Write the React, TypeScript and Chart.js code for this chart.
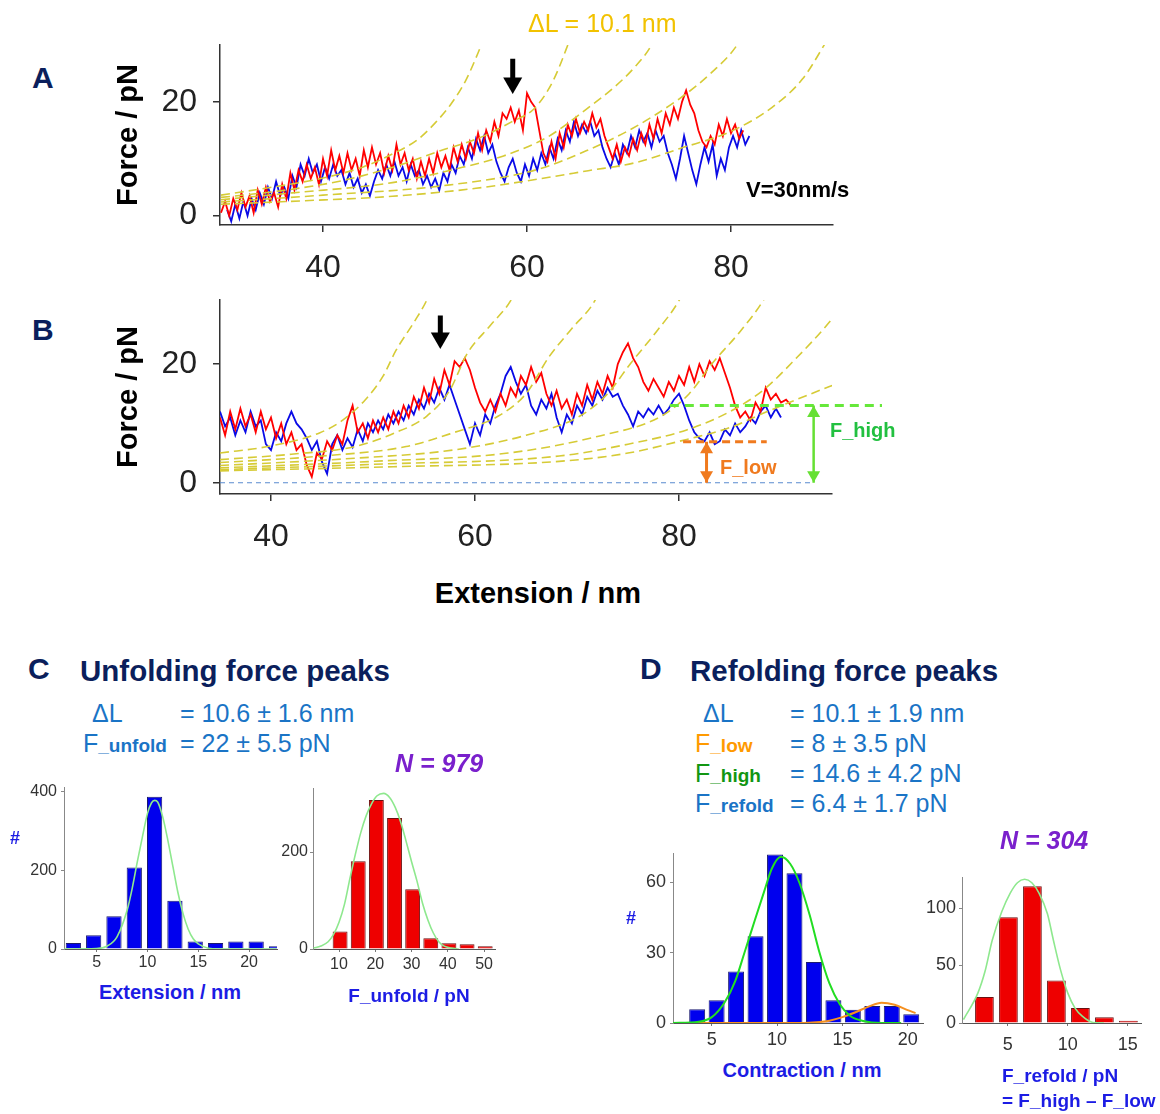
import React, { useEffect, useRef } from "react";
import { Chart, registerables } from "chart.js";
Chart.register(...registerables);

const FONT = '"Liberation Sans", Arial, Helvetica, sans-serif';
const NAVY = "#0b1f5c";
const STAT = "#1a74c6";
const AXT = "#1c1ce4";
const PURPLE = "#7a20cc";
const YELLOW = "#d6cb36";
const RED = "#ff0000";
const BLUE = "#0a0ae6";

// ---------------- Panel A ----------------
const A_X_RANGE = [29.9, 90];
const A_Y_RANGE = [-1.65, 30];
const A_X_TICKS = [40, 60, 80];
const A_Y_TICKS = [0, 20];
const A_RED_X = [30.0, 81.2];
const A_RED_Y = [
  0.5, 2.5, 0, 3, 1, 4, 1.5, 3.5, 0.5, 4.5,
  2, 5, 2.5, 4, 1.5, 5.5, 3, 7.5, 4.5, 8,
  6, 9, 6.5, 8.5, 5.5, 10, 7, 11.5, 8, 10.5,
  7.5, 11, 8, 10, 7, 11.5, 8.5, 12, 9, 11,
  7.5, 10.5, 8, 12.5, 9, 11, 8, 10, 6.5, 9.5,
  7, 10, 7.5, 11, 8.5, 10.5, 8, 12, 9.5, 12.5,
  10, 13, 11, 14.5, 11.5, 15, 13, 16.5, 14, 18,
  17, 19, 16.5, 18.5, 15, 21.5, 20, 19, 15, 11,
  9.5, 13, 10, 14.5, 12, 16, 14, 17, 14.5, 16.5,
  15, 18, 15.5, 17, 14, 12, 10, 12.5, 9.5, 12,
  10.5, 13.5, 11.5, 14.5, 12.5, 16, 13.5, 17, 14.5, 18,
  16, 19, 17, 20, 22, 19.5, 18, 15, 13, 12,
  14, 12.5, 16, 14, 17, 14.5, 16, 13.5, 15,
];
const A_BLUE_X = [30.6, 81.8];
const A_BLUE_Y = [
  1, -1, 2, -0.5, 2.5, 0, 3, 1, 4, 2,
  5, 3, 6, 3.5, 5, 3, 7, 5, 9, 7,
  10, 7.5, 9, 6, 8.5, 6.5, 9, 7, 8, 5.5,
  7.5, 5, 6.5, 4, 5.5, 3.5, 6, 8, 6.5, 9,
  7, 9.5, 7, 8.5, 6, 9, 7, 8, 5.5, 7,
  5, 6.5, 4.5, 7.5, 6, 9, 7.5, 10.5, 9, 12,
  10, 13.5, 11.5, 14, 11, 12.5, 9.5, 7.5, 6, 8.5,
  10, 7.5, 6, 9, 7, 10, 8, 11, 9, 12,
  10, 13.5, 11.5, 15, 13, 16.5, 14, 16, 14.5, 16.5,
  14, 15, 12, 10, 8.5, 11, 9, 12.5, 11, 14,
  12, 15, 13, 14.5, 12, 15, 13, 14, 11, 9,
  6.5, 10, 14, 11, 8, 5.5, 9, 12, 9.5, 12.5,
  7, 10, 8, 12, 14, 12, 15, 12.5, 14,
];
const A_WLC_1 = [[30, 3.6], [35, 5.0], [40, 6.6], [44, 8.6], [46.3, 10.4], [49.3, 13.4], [51, 16.3], [52.5, 19.5], [54, 23.8], [55.5, 29.9], [56.2, 33]];
const A_WLC_2 = [[30, 3.2], [36, 4.4], [42, 6.2], [47, 8.6], [51.5, 11.4], [55.5, 13.8], [58.5, 16.5], [60.7, 18.8], [62.5, 23.5], [64, 30], [64.6, 33]];
const A_WLC_3 = [[30, 2.8], [37, 4.0], [46.8, 5.8], [53, 8.2], [57.7, 10.5], [62, 13.8], [65.8, 18.7], [68.5, 22.5], [70.5, 26], [72.2, 30], [72.8, 32.5]];
const A_WLC_4 = [[30, 2.4], [40, 3.6], [51.5, 5.2], [61, 8.1], [65.8, 11.4], [70, 15], [74.9, 20.5], [78, 25], [80.6, 30], [81.2, 32]];
const A_WLC_5 = [[30, 2.0], [38, 2.6], [46.8, 3.4], [55, 4.8], [61, 6.4], [66, 7.9], [70.6, 9.3], [75, 11.8], [80.1, 14.9], [84, 19], [87, 24], [89.1, 29.9], [89.6, 31.5]];
const A_ARROW = [[58.6, 27.6], [58.6, 23.3]];

// ---------------- Panel B ----------------
const B_X_RANGE = [35, 95];
const B_Y_RANGE = [-1.9, 30.8];
const B_X_TICKS = [40, 60, 80];
const B_Y_TICKS = [0, 20];
const B_RED_X = [35, 91];
const B_RED_Y = [
  11, 8, 12, 9, 12.5, 9.5, 11.5, 8.5, 12, 9,
  11, 7.5, 10, 6.5, 8.5, 5.5, 6.5, 3, 1, 5,
  4, 7, 5.5, 8, 6.5, 10.5, 13, 8.5, 10, 7.5,
  10.5, 8.5, 11, 9, 12, 10, 13, 11, 14.5, 12.5,
  16, 13.5, 17.5, 15, 19, 16.5, 20.5, 19.5, 21, 19,
  16, 13.5, 12, 14, 12, 15, 13, 16, 14.5, 18,
  16.5, 19.5, 17, 18.5, 15, 13, 15.5, 12.5, 14, 11.5,
  15, 13, 16.5, 14, 17, 15, 18, 16, 20, 22,
  23.5, 21, 19.5, 17, 15.5, 17.5, 16, 14.5, 17, 15.5,
  18, 16.5, 19.5, 17, 20, 18, 20.5, 19, 21, 18.5,
  16, 13, 11, 12, 10.5, 13.5, 12, 16, 14, 15,
  13.5, 14, 13,
];
const B_BLUE_X = [35, 90];
const B_BLUE_Y = [
  12, 9.5, 11, 8, 10.5, 8.5, 12, 9.5, 10.5, 6.5,
  5.5, 8.5, 7, 10, 12, 10, 9, 7.5, 5.5, 7,
  3.5, 1.5, 6.5, 8, 5.5, 7.5, 6, 9, 7, 10,
  8.5, 10.5, 9, 11.5, 10, 12, 10.5, 13, 11.5, 14,
  12.5, 15, 13.5, 16, 14, 16.5, 14, 11.5, 9, 6.5,
  10, 8, 11.5, 10, 13, 15, 18, 19.5, 17, 15,
  16.5, 13, 11.5, 14, 12.5, 15, 11, 8.5, 11.5, 10,
  13, 11.5, 14.5, 13, 15.5, 14, 16, 14.5, 15, 13,
  11.5, 9.5, 12, 11, 12.5, 11.5, 13, 11.5, 12.5, 14,
  15, 13, 10.5, 8.5, 7.5, 7, 8.5, 6.5, 7, 9,
  8, 10, 8.5, 9.5, 11, 10, 12, 13, 11, 12.5,
  11,
];
const B_WLC_1 = [[35, 5.0], [40, 6.2], [44.75, 8.4], [47, 10.5], [49.25, 14], [51, 18], [52.25, 22.3], [54, 27], [55.25, 30.7], [55.8, 33]];
const B_WLC_2 = [[35, 3.9], [42, 4.8], [48.25, 6.1], [52, 8.3], [55.25, 11.2], [57.5, 15.5], [59.25, 21.8], [61.5, 26.5], [63.5, 30.7], [64, 32.5]];
const B_WLC_3 = [[35, 3.4], [45, 4.5], [53.25, 6.1], [58, 8.5], [62.25, 11.2], [65, 15], [67.25, 21.2], [69.5, 26], [71.75, 30.7], [72.2, 32.5]];
const B_WLC_4 = [[35, 2.9], [47, 4.0], [58.25, 5.6], [65, 8.0], [70.25, 11.2], [73, 15], [75.25, 20.1], [77.8, 25.5], [80, 30.7], [80.5, 32.5]];
const B_WLC_5 = [[35, 2.5], [50, 3.6], [63.25, 5.0], [72, 7.8], [78.25, 11.2], [81, 15], [83.25, 20.1], [86, 25.5], [88.25, 30.7], [88.8, 32.5]];
const B_WLC_6 = [[35, 2.2], [50, 3.1], [68.25, 4.5], [75, 6.5], [80.75, 8.9], [85, 12], [88.25, 15.6], [91.5, 21], [94.75, 27.1], [96, 30]];
const B_WLC_7 = [[35, 2.0], [52, 2.7], [68.25, 3.6], [75, 5.0], [80.75, 7.3], [85, 9.3], [88.25, 11.7], [91.5, 14], [94.75, 16.2], [96, 17]];
const B_ARROW = [[56.6, 28.2], [56.6, 24.4]];
const B_LOW_ARROW = [[82.7, 6.9], [82.7, 5.6], [82.7, 1.3], [82.7, 0]];
const B_HIGH_ARROW = [[93.2, 13], [93.2, 11.7], [93.2, 1.3], [93.2, 0]];
const B_HIGH_LINE = [[79.1, 13], [99.9, 13]];
const B_LOW_LINE = [[80.4, 6.9], [88.6, 6.9]];
const B_ZERO_LINE = [[35, 0], [93.2, 0]];

// ---------------- Panel C ----------------
const C_EXT_BINS = [2.7, 4.7, 6.7, 8.7, 10.7, 12.7, 14.7, 16.7, 18.7, 20.7, 22.7];
const C_EXT_COUNTS = [15, 35, 83, 207, 387, 123, 19, 15, 19, 19, 7];
const C_EXT_FIT = [[1.8, 0], [5, 1], [6, 7], [7, 31], [8, 99], [8.5, 155], [9, 222], [9.5, 285], [10, 345], [10.4, 372], [10.7, 378], [11, 374], [11.5, 336], [12, 277], [12.5, 210], [13, 143], [13.5, 90], [14, 51], [14.5, 26], [15, 13], [16, 2], [17, 0], [22.7, 0]];
const C_EXT_X_TICKS = [5, 10, 15, 20];
const C_EXT_Y_TICKS = [0, 200, 400];

const C_FORCE_BINS = [5.3, 10.3, 15.3, 20.3, 25.3, 30.3, 35.3, 40.3, 45.3, 50.3];
const C_FORCE_COUNTS = [1.5, 36, 181, 307, 270, 123, 22, 12, 10, 5.5];
const C_FORCE_FIT = [[3, 2], [5, 6], [7, 15], [8.5, 30], [10, 55], [11.5, 92], [13, 145], [14.5, 195], [16, 240], [17.5, 275], [19, 300], [20.5, 316], [22.3, 321], [24, 312], [25.5, 292], [27, 262], [28.5, 222], [30, 180], [31.5, 140], [33, 95], [34.5, 60], [36, 33], [37.5, 15], [39, 6], [41, 2], [43, 0]];
const C_FORCE_X_TICKS = [10, 20, 30, 40, 50];
const C_FORCE_Y_TICKS = [0, 200];

// ---------------- Panel D ----------------
const D_CON_BINS = [3.88, 5.37, 6.86, 8.35, 9.84, 11.33, 12.82, 14.31, 15.8, 17.29, 18.78, 20.27];
const D_CON_COUNTS = [5.9, 9.7, 22, 37, 72, 64, 26, 9.7, 5.7, 7.3, 7.3, 3.7];
const D_CON_FIT_MAIN = [[2, 0], [4, 0.5], [5, 2.5], [6, 9], [6.8, 18], [7.5, 30], [8.3, 44], [9, 56], [9.6, 66], [10.3, 71], [11, 68], [11.7, 60], [12.5, 46], [13.2, 31], [14, 17], [14.8, 8], [15.6, 3], [16.5, 1], [18, 0], [19.5, 0]];
const D_CON_FIT_SIDE = [[2, 0], [12, 0], [13, 0.3], [14, 1], [15, 2.5], [16, 4.6], [17, 7], [18, 8.7], [19, 7.8], [20, 5.5], [20.6, 4.2]];
const D_CON_X_TICKS = [5, 10, 15, 20];
const D_CON_Y_TICKS = [0, 30, 60];

const D_REF_BINS = [3.05, 5.05, 7.05, 9.05, 11.05, 13.05, 15.05];
const D_REF_COUNTS = [22.6, 92, 119, 37, 13, 5, 2];
const D_REF_FIT = [[1.3, 3], [2.5, 26], [3.1, 45], [3.7, 72], [4.5, 97], [5.2, 113], [5.8, 122], [6.4, 125], [7, 122], [7.6, 113], [8.3, 95], [8.8, 72], [9.4, 46], [10, 26], [10.6, 13], [11.2, 6], [12.1, 0.5], [13, 0]];
const D_REF_X_TICKS = [5, 10, 15];
const D_REF_Y_TICKS = [0, 50, 100];

// ---------------- helpers ----------------
const trace = (xr: number[], ys: number[]) =>
  ys.map((y, i) => ({ x: xr[0] + (i * (xr[1] - xr[0])) / (ys.length - 1), y }));
const pairs = (p: number[][]) => p.map(([x, y]) => ({ x, y }));
const setTicks = (vals: number[]) => (s: any) => {
  s.ticks = vals.map((v) => ({ value: v }));
};

type Box = { l: number; t: number; r: number; b: number; wy: number; hx: number; pt: number; pr: number };

function ChartCanvas({ box, build }: { box: Box; build: () => any }) {
  const ref = useRef<HTMLCanvasElement | null>(null);
  useEffect(() => {
    const chart = new Chart(ref.current as HTMLCanvasElement, build());
    return () => chart.destroy();
  }, []);
  const width = box.wy + (box.r - box.l) + box.pr;
  const height = box.pt + (box.b - box.t) + box.hx;
  return (
    <canvas
      ref={ref}
      width={width}
      height={height}
      style={{ position: "absolute", left: box.l - box.wy, top: box.t - box.pt, width, height }}
    />
  );
}

const lineDs = (pts: any[], color: string, width: number, dash: number[] = [], extra: any = {}) => ({
  type: "line",
  data: pts,
  borderColor: color,
  backgroundColor: color,
  borderWidth: width,
  borderDash: dash,
  pointRadius: 0,
  fill: false,
  tension: 0,
  ...extra,
});

const arrowDs = (pts: number[][], color: string, width: number, radii: number[], rot: number[]) =>
  lineDs(pairs(pts), color, width, [], {
    pointRadius: radii,
    pointStyle: "triangle",
    pointRotation: rot,
    pointBackgroundColor: color,
    pointBorderColor: color,
    pointBorderWidth: 0,
    borderCapStyle: "butt",
  });

function traceConfig(box: Box, xr: number[], yr: number[], xt: number[], yt: number[], datasets: any[]) {
  return {
    type: "line",
    data: { datasets },
    options: {
      responsive: false,
      animation: false,
      devicePixelRatio: 1,
      events: [],
      layout: { padding: { top: box.pt, right: box.pr, left: 0, bottom: 0 } },
      plugins: { legend: { display: false }, tooltip: { enabled: false } },
      scales: {
        x: {
          type: "linear",
          min: xr[0],
          max: xr[1],
          afterBuildTicks: setTicks(xt),
          afterFit: (s: any) => {
            s.height = box.hx;
          },
          grid: { drawOnChartArea: false, drawTicks: true, tickLength: 7, color: "#333", lineWidth: 1.5 },
          border: { display: true, color: "#333", width: 1.5 },
          ticks: { font: { family: FONT, size: 32 }, color: "#222", padding: 17, maxRotation: 0, autoSkip: false },
        },
        y: {
          type: "linear",
          min: yr[0],
          max: yr[1],
          afterBuildTicks: setTicks(yt),
          afterFit: (s: any) => {
            s.width = box.wy;
          },
          grid: { drawOnChartArea: false, drawTicks: true, tickLength: 7, color: "#333", lineWidth: 1.5 },
          border: { display: true, color: "#333", width: 1.5 },
          ticks: { font: { family: FONT, size: 32 }, color: "#222", padding: 16, autoSkip: false },
          title: {
            display: true,
            text: "Force / pN",
            color: "#000",
            font: { family: FONT, size: 29, weight: "bold", lineHeight: 1.2 },
            padding: { top: 12, bottom: 0 },
          },
        },
      },
    },
  };
}

function histConfig(o: {
  box: Box;
  bins: number[];
  counts: number[];
  fill: string;
  edge: string;
  frac: number;
  fits: { pts: number[][]; color: string; width: number }[];
  xr: number[];
  yr: number[];
  xt: number[];
  yt: number[];
  fs: number;
  xpad: number;
  ypad: number;
}) {
  const datasets: any[] = [
    ...o.fits.map((f) =>
      lineDs(pairs(f.pts), f.color, f.width, [], { cubicInterpolationMode: "monotone" })
    ),
    {
      type: "bar",
      data: o.bins.map((x, i) => ({ x, y: o.counts[i] })),
      backgroundColor: o.fill,
      borderColor: o.edge,
      borderWidth: 1,
      barPercentage: o.frac,
      categoryPercentage: 1,
    },
  ];
  return {
    type: "bar",
    data: { datasets },
    options: {
      responsive: false,
      animation: false,
      devicePixelRatio: 1,
      events: [],
      layout: { padding: { top: o.box.pt, right: o.box.pr, left: 0, bottom: 0 } },
      plugins: { legend: { display: false }, tooltip: { enabled: false } },
      scales: {
        x: {
          type: "linear",
          offset: false,
          min: o.xr[0],
          max: o.xr[1],
          afterBuildTicks: setTicks(o.xt),
          afterFit: (s: any) => {
            s.height = o.box.hx;
          },
          grid: { offset: false, drawOnChartArea: false, drawTicks: true, tickLength: 3, color: "#777" },
          border: { display: true, color: "#555", width: 1 },
          ticks: { font: { family: FONT, size: o.fs }, color: "#333", padding: o.xpad, maxRotation: 0, autoSkip: false },
        },
        y: {
          type: "linear",
          min: o.yr[0],
          max: o.yr[1],
          afterBuildTicks: setTicks(o.yt),
          afterFit: (s: any) => {
            s.width = o.box.wy;
          },
          grid: { drawOnChartArea: false, drawTicks: true, tickLength: 3, color: "#888" },
          border: { display: true, color: "#888", width: 1 },
          ticks: { font: { family: FONT, size: o.fs }, color: "#333", padding: o.ypad, autoSkip: false },
        },
      },
    },
  };
}

// ---------------- boxes ----------------
const BOX_A: Box = { l: 220, t: 45, r: 833, b: 225, wy: 120, hx: 70, pt: 40, pr: 20 };
const BOX_B: Box = { l: 220, t: 300, r: 832, b: 494, wy: 120, hx: 70, pt: 40, pr: 60 };
const BOX_C1: Box = { l: 64, t: 787, r: 277, b: 949, wy: 50, hx: 30, pt: 20, pr: 15 };
const BOX_C2: Box = { l: 313, t: 788, r: 495, b: 949, wy: 50, hx: 30, pt: 20, pr: 15 };
const BOX_D1: Box = { l: 673, t: 853, r: 923, b: 1023, wy: 50, hx: 34, pt: 20, pr: 15 };
const BOX_D2: Box = { l: 962, t: 877, r: 1141, b: 1023, wy: 50, hx: 36, pt: 20, pr: 15 };

const buildA = () =>
  traceConfig(BOX_A, A_X_RANGE, A_Y_RANGE, A_X_TICKS, A_Y_TICKS, [
    arrowDs(A_ARROW, "#000", 5, [0, 11], [0, 180]),
    ...[A_WLC_1, A_WLC_2, A_WLC_3, A_WLC_4, A_WLC_5].map((c) =>
      lineDs(pairs(c), YELLOW, 1.6, [9, 5], { cubicInterpolationMode: "monotone" })
    ),
    lineDs(trace(A_RED_X, A_RED_Y), RED, 1.8),
    lineDs(trace(A_BLUE_X, A_BLUE_Y), BLUE, 1.8),
  ]);

const buildB = () =>
  traceConfig(BOX_B, B_X_RANGE, B_Y_RANGE, B_X_TICKS, B_Y_TICKS, [
    arrowDs(B_ARROW, "#000", 5, [0, 11], [0, 180]),
    arrowDs(B_LOW_ARROW, "#f07a1e", 3, [0, 7.5, 7.5, 0], [0, 0, 180, 180]),
    arrowDs(B_HIGH_ARROW, "#66e033", 2.5, [0, 7.5, 7.5, 0], [0, 0, 180, 180]),
    lineDs(pairs(B_HIGH_LINE), "#66e83a", 3, [9, 6], { clip: false }),
    lineDs(pairs(B_LOW_LINE), "#f07a1e", 3, [8, 5]),
    lineDs(pairs(B_ZERO_LINE), "#5a8ad0", 1.2, [5, 4]),
    ...[B_WLC_1, B_WLC_2, B_WLC_3, B_WLC_4, B_WLC_5, B_WLC_6, B_WLC_7].map((c) =>
      lineDs(pairs(c), YELLOW, 1.6, [9, 5], { cubicInterpolationMode: "monotone" })
    ),
    lineDs(trace(B_RED_X, B_RED_Y), RED, 1.8),
    lineDs(trace(B_BLUE_X, B_BLUE_Y), BLUE, 1.8),
  ]);

const buildC1 = () =>
  histConfig({
    box: BOX_C1, bins: C_EXT_BINS, counts: C_EXT_COUNTS, fill: "#0000ee", edge: "#1a1a70", frac: 0.75,
    fits: [{ pts: C_EXT_FIT, color: "#8ee88e", width: 1.6 }],
    xr: [1.78, 22.75], yr: [0, 412], xt: C_EXT_X_TICKS, yt: C_EXT_Y_TICKS, fs: 16, xpad: 1, ypad: 4,
  });
const buildC2 = () =>
  histConfig({
    box: BOX_C2, bins: C_FORCE_BINS, counts: C_FORCE_COUNTS, fill: "#ee0000", edge: "#6a1010", frac: 0.82,
    fits: [{ pts: C_FORCE_FIT, color: "#8ee88e", width: 1.6 }],
    xr: [2.83, 53], yr: [0, 332], xt: C_FORCE_X_TICKS, yt: C_FORCE_Y_TICKS, fs: 16, xpad: 3, ypad: 2,
  });
const buildD1 = () =>
  histConfig({
    box: BOX_D1, bins: D_CON_BINS, counts: D_CON_COUNTS, fill: "#0000ee", edge: "#1a1a70", frac: 0.82,
    fits: [
      { pts: D_CON_FIT_MAIN, color: "#22dd22", width: 2 },
      { pts: D_CON_FIT_SIDE, color: "#f59020", width: 2 },
    ],
    xr: [2.03, 21.17], yr: [0, 72.6], xt: D_CON_X_TICKS, yt: D_CON_Y_TICKS, fs: 18, xpad: 3, ypad: 4,
  });
const buildD2 = () =>
  histConfig({
    box: BOX_D2, bins: D_REF_BINS, counts: D_REF_COUNTS, fill: "#ee0000", edge: "#6a1010", frac: 0.78,
    fits: [{ pts: D_REF_FIT, color: "#8ee88e", width: 1.6 }],
    xr: [1.18, 16.1], yr: [0, 127], xt: D_REF_X_TICKS, yt: D_REF_Y_TICKS, fs: 18, xpad: 8, ypad: 3,
  });

// ---------------- text ----------------
function T({
  x, y, size, color, bold, italic, center, children,
}: {
  x: number; y: number; size: number; color: string; bold?: boolean; italic?: boolean; center?: boolean; children: any;
}) {
  return (
    <div
      style={{
        position: "absolute",
        left: x,
        top: y - size * 0.5,
        fontFamily: FONT,
        fontSize: size,
        lineHeight: 1,
        color,
        fontWeight: bold ? "bold" : "normal",
        fontStyle: italic ? "italic" : "normal",
        whiteSpace: "nowrap",
        transform: center ? "translateX(-50%)" : undefined,
      }}
    >
      {children}
    </div>
  );
}

const Sub = ({ children }: { children: any }) => (
  <span style={{ fontSize: 19, fontWeight: "bold" }}>{children}</span>
);

export default function App() {
  return (
    <div style={{ position: "absolute", left: 0, top: 0, width: 1160, height: 1114, background: "#fff", overflow: "hidden" }}>
      <ChartCanvas box={BOX_A} build={buildA} />
      <ChartCanvas box={BOX_B} build={buildB} />
      <ChartCanvas box={BOX_C1} build={buildC1} />
      <ChartCanvas box={BOX_C2} build={buildC2} />
      <ChartCanvas box={BOX_D1} build={buildD1} />
      <ChartCanvas box={BOX_D2} build={buildD2} />

      <T x={32} y={78} size={30} color={NAVY} bold>A</T>
      <T x={32} y={330} size={30} color={NAVY} bold>B</T>
      <T x={528} y={23} size={25} color="#f2c200">ΔL = 10.1 nm</T>
      <T x={746} y={190} size={22} color="#000" bold>V=30nm/s</T>
      <T x={720} y={467} size={20} color="#f07a1e" bold>F_low</T>
      <T x={830} y={430} size={20} color="#22c040" bold>F_high</T>
      <T x={538} y={593} size={29} color="#000" bold center>Extension / nm</T>

      <T x={28} y={669} size={30} color={NAVY} bold>C</T>
      <T x={80} y={671} size={29.5} color={NAVY} bold>Unfolding force peaks</T>
      <T x={92} y={713} size={25} color={STAT}>ΔL</T>
      <T x={180} y={713} size={25} color={STAT}>= 10.6 ± 1.6 nm</T>
      <T x={83} y={743} size={25} color={STAT}>F<Sub>_unfold</Sub></T>
      <T x={180} y={743} size={25} color={STAT}>= 22 ± 5.5 pN</T>
      <T x={395} y={763} size={25} color={PURPLE} bold italic>N = 979</T>
      <T x={10} y={838} size={18} color={AXT} bold>#</T>
      <T x={170} y={992} size={20} color={AXT} bold center>Extension / nm</T>
      <T x={409} y={995} size={19} color={AXT} bold center>F_unfold / pN</T>

      <T x={640} y={669} size={30} color={NAVY} bold>D</T>
      <T x={690} y={671} size={29.5} color={NAVY} bold>Refolding force peaks</T>
      <T x={703} y={713} size={25} color={STAT}>ΔL</T>
      <T x={790} y={713} size={25} color={STAT}>= 10.1 ± 1.9 nm</T>
      <T x={695} y={743} size={25} color="#ff9a00">F<Sub>_low</Sub></T>
      <T x={790} y={743} size={25} color={STAT}>= 8 ± 3.5 pN</T>
      <T x={695} y={773} size={25} color="#129612">F<Sub>_high</Sub></T>
      <T x={790} y={773} size={25} color={STAT}>= 14.6 ± 4.2 pN</T>
      <T x={695} y={803} size={25} color={STAT}>F<Sub>_refold</Sub></T>
      <T x={790} y={803} size={25} color={STAT}>= 6.4 ± 1.7 pN</T>
      <T x={1000} y={840} size={25} color={PURPLE} bold italic>N = 304</T>
      <T x={626} y={918} size={18} color={AXT} bold>#</T>
      <T x={802} y={1070} size={20} color={AXT} bold center>Contraction / nm</T>
      <T x={1002} y={1075} size={19} color={AXT} bold>F_refold / pN</T>
      <T x={1002} y={1100} size={19} color={AXT} bold>= F_high – F_low</T>
    </div>
  );
}
